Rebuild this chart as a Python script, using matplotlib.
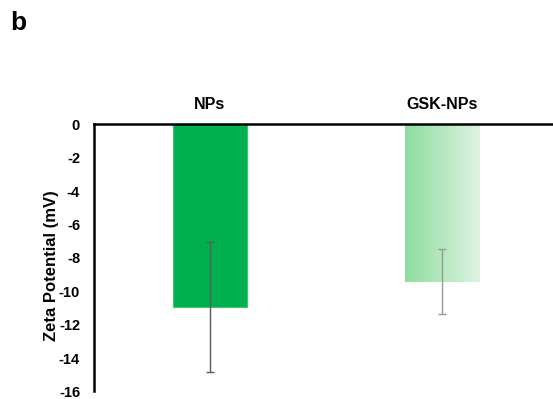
import numpy as np
import matplotlib
matplotlib.use("Agg")
import matplotlib.pyplot as plt
from matplotlib.colors import LinearSegmentedColormap

plt.rcParams['font.family'] = ['Liberation Sans', 'DejaVu Sans']
plt.rcParams['font.weight'] = 'bold'
plt.rcParams['axes.unicode_minus'] = False

# zeta potential data (mV)
groups = ['NPs', 'GSK-NPs']
zeta = [-10.93, -9.43]
zeta_sd = [3.9, 1.95]

fig = plt.figure(figsize=(5.53, 3.99), dpi=100)
ax = fig.add_axes([0.170, 0.019, 0.830, 0.669])

x = np.arange(len(groups))
width = 0.32

bars = ax.bar(x, zeta, width=width, color=['#00b050', 'none'],
              edgecolor=['#3cc86c', 'none'], linewidth=0.8, zorder=2)

# second bar gets a left-to-right fade
fade = LinearSegmentedColormap.from_list('fade', ['#8fdc9f', '#def3e2'])
grad = np.linspace(0, 1, 256).reshape(1, -1)
b = bars[1]
im = ax.imshow(grad, cmap=fade, aspect='auto', zorder=2,
               extent=[b.get_x(), b.get_x() + b.get_width(), zeta[1], 0])
im.set_clip_path(b)

ax.errorbar(x[0], zeta[0], yerr=zeta_sd[0], fmt='none', ecolor='#5a5a5a',
            elinewidth=1.0, capsize=3, capthick=1.0, zorder=3)
ax.errorbar(x[1], zeta[1], yerr=zeta_sd[1], fmt='none', ecolor='#9a9a9a',
            elinewidth=1.0, capsize=3, capthick=1.0, zorder=3)

ax.set_xlim(-0.5, 1.48)
ax.set_ylim(-16, 0)
ax.set_yticks(np.arange(-16, 1, 2))
ax.tick_params(axis='y', length=0, pad=10, labelsize=10.5)
ax.set_xticks(x)
ax.set_xticklabels(groups, fontsize=11.5, fontweight='bold')
ax.xaxis.set_ticks_position('top')
ax.tick_params(axis='x', length=0, pad=9)

for s in ['right', 'bottom']:
    ax.spines[s].set_visible(False)
ax.spines['left'].set_linewidth(1.8)
ax.spines['top'].set_linewidth(1.8)

ax.set_ylabel('Zeta Potential (mV)', fontsize=12, fontweight='bold')
ax.yaxis.set_label_coords(-0.076, 0.47)

fig.text(0.018, 0.925, 'b', fontsize=19, fontweight='bold')

fig.savefig('out.png', dpi=100)
